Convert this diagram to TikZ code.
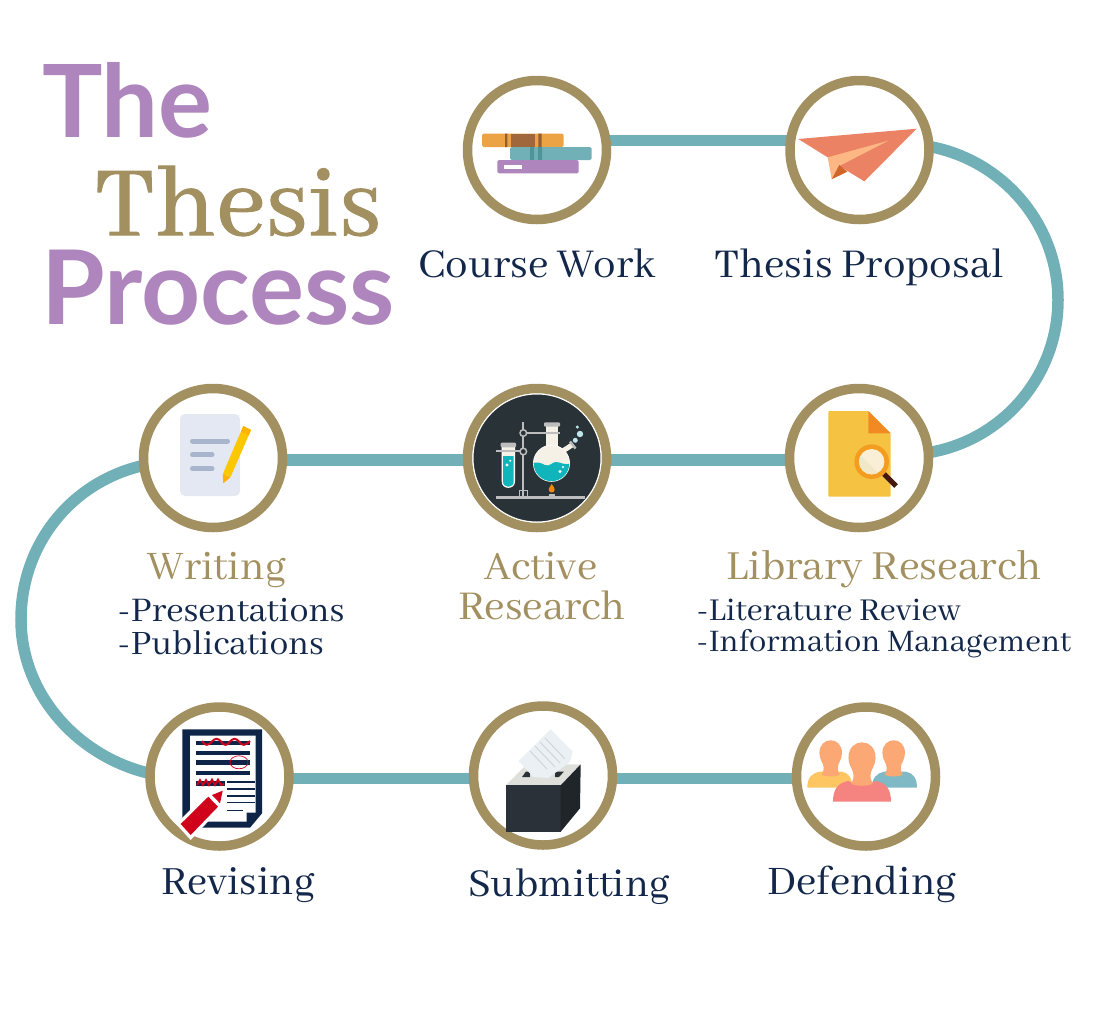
\documentclass[tikz,border=0pt]{standalone}
\usepackage{fontspec}
\usetikzlibrary{calc}
\newfontfamily\serifface{Abhaya Libre}
\newfontfamily\serifheavy[FakeBold=1]{Abhaya Libre}
\newfontfamily\titleface{Lato}
\pgfdeclarelayer{bg}
\pgfsetlayers{bg,main}
\definecolor{gold}{HTML}{A39060}
\definecolor{tealc}{HTML}{72B0B7}
\definecolor{navy}{HTML}{12274A}
\definecolor{purp}{HTML}{AE85BC}
\definecolor{labdark}{HTML}{293237}
\definecolor{labcream}{HTML}{F6F1E7}
\definecolor{labteal}{HTML}{10B5BC}
\definecolor{labgray}{HTML}{BDBDBD}
\definecolor{docnavy}{HTML}{0F2548}
\definecolor{redc}{HTML}{D0021B}
\definecolor{skin}{HTML}{FBA874}
\definecolor{cOrange}{HTML}{EBA346}
\definecolor{cBrown}{HTML}{A0673D}
\definecolor{cBrownD}{HTML}{965F32}
\definecolor{cTealD}{HTML}{4F9498}
\definecolor{cPlane}{HTML}{EC8264}
\definecolor{cPlaneL}{HTML}{FDB785}
\definecolor{cPlaneD}{HTML}{D0652A}
\definecolor{cDoc}{HTML}{F5C242}
\definecolor{cFold}{HTML}{F28A24}
\definecolor{cHandle}{HTML}{44190F}
\definecolor{cMag}{HTML}{F39C1F}
\definecolor{cGlass}{HTML}{F8EFD6}
\definecolor{cGlassB}{HTML}{F0E8C6}
\definecolor{cPage}{HTML}{E4E8F3}
\definecolor{cLine}{HTML}{A9B5CD}
\definecolor{cPen}{HTML}{FBC800}
\definecolor{cPenB}{HTML}{FFB300}
\definecolor{cBub}{HTML}{BDE7EC}
\definecolor{cFlame}{HTML}{F08A00}
\definecolor{cTop}{HTML}{DFE0DB}
\definecolor{cPaper}{HTML}{EAF0F4}
\definecolor{cPaperL}{HTML}{CDD4DA}
\definecolor{cBox}{HTML}{2A3138}
\definecolor{cBoxD}{HTML}{1F2528}
\definecolor{cYel}{HTML}{FDC662}
\definecolor{cTealB}{HTML}{7FB9C6}
\definecolor{cRedB}{HTML}{F58380}
\newcommand{\sz}[1]{\fontsize{#1}{#1}\selectfont}
\tikzset{
  ringnode/.style={circle,draw=gold,line width=9.5pt,fill=white,minimum size=139pt,inner sep=0pt,outer sep=0pt},
  conn/.style={draw=tealc,line width=11.5pt},
  navylabel/.style={anchor=base,text=navy,inner sep=0pt,font=\serifface},
  goldlabel/.style={anchor=base,text=gold,inner sep=0pt,font=\serifface},
  sublabel/.style={anchor=base west,text=navy,inner sep=0pt,font=\serifface},
  bigsans/.style={anchor=base west,text=purp,inner sep=0pt,font=\titleface\bfseries},
  bigserif/.style={anchor=base west,text=gold,inner sep=0pt,font=\serifheavy\sz{109}},
  thickline/.style={line width=4.5pt,draw=docnavy},
  thinline/.style={line width=1.5pt,draw=docnavy},
}
% head and neck of a person: centre x, top y, size factor
\newcommand{\headshape}[3]{%
  \fill[skin,shift={(#1,#2)},scale=#3]
    (-11.3,13) .. controls (-11.3,-4) and (11.3,-4) .. (11.3,13)
    .. controls (11.3,20) and (7,23) .. (7,28) .. controls (7,32) and (9,34) .. (9,35)
    .. controls (3,37) and (-3,37) .. (-9,35) .. controls (-9,34) and (-7,32) .. (-7,28)
    .. controls (-7,23) and (-11.3,20) .. (-11.3,13) -- cycle;}
\begin{document}
\begin{tikzpicture}[x=1pt,y=-1pt]
\useasboundingbox (0,0) rectangle (1093,1026);
\coordinate (arcR) at (1058,300);
\coordinate (arcL) at (21,619.5);
\node[ringnode] (n1) at (537,150) {};
\node[ringnode] (n2) at (859.5,150) {};
\node[ringnode] (n3) at (859,458) {};
\node[ringnode] (n4) at (537,458) {};
\node[ringnode] (n5) at (213,458) {};
\node[ringnode] (n6) at (219.5,776.5) {};
\node[ringnode] (n7) at (543,775.5) {};
\node[ringnode] (n8) at (866,776.5) {};
\begin{pgfonlayer}{bg}
\draw[conn] ($(n1)+(0,-9.5)$) -- ($(n2)+(0,-9.5)$);
\draw[conn] ($(n2)+(72.5,-3)$) .. controls (1005,161.8) and (1058,225.8) .. (arcR)
  .. controls (1058,374.2) and (1005,438.2) .. ($(n3)+(73,-6)$);
\draw[conn] ($(n3)+(0,2)$) -- ($(n4)+(0,2)$);
\draw[conn] ($(n4)+(0,2)$) -- ($(n5)+(0,2)$);
\draw[conn] ($(n5)+(-72,8)$) .. controls (69.5,483.4) and (21,545.9) .. (arcL)
  .. controls (21,693.1) and (76.5,755.6) .. ($(n6)+(-71.5,-3.5)$);
\draw[conn] ($(n6)+(0,2)$) -- ($(n7)+(0,3)$);
\draw[conn] ($(n7)+(0,3)$) -- ($(n8)+(0,2)$);
\end{pgfonlayer}
% --- books
\fill[rounded corners=1.5pt,cOrange] (482,133.7) rectangle (563.7,147);
\fill[cBrown] (510.7,133.7) rectangle (535,147);
\fill[cBrownD] (505,133.7) rectangle (507.3,147) (538.3,133.7) rectangle (541.7,147);
\fill[rounded corners=1.5pt,tealc] (510,147) rectangle (591.7,160);
\fill[cTealD] (530,147) rectangle (534,160) (538,147) rectangle (542,160);
\fill[rounded corners=1.5pt,purp] (497.3,160) rectangle (578.7,173.3);
\fill[white] (504.3,165) rectangle (522,169);
% --- plane
\fill[cPlane] (798.3,139) -- (916.7,128.7) -- (864.3,181.3) -- (839.3,166) -- (827.7,157.3) -- cycle;
\fill[cPlaneL] (827.7,157.3) -- (888.3,140.7) -- (839.3,166) -- (831.7,179.3) -- cycle;
\fill[cPlaneD] (831.7,179.3) -- (839.3,165) -- (847.3,171.7) -- cycle;
% --- library icon
\fill[rounded corners=1pt,cDoc] (828.3,411) -- (868.3,411) -- (890.7,433.3) -- (890.7,496.7) -- (828.3,496.7) -- cycle;
\fill[cFold] (868.3,411) -- (890.7,433.3) -- (868.3,433.3) -- cycle;
\draw[line width=5pt,cHandle] (884,474) -- (896,486);
\fill[cMag] (871.7,461.7) circle[radius=17.3pt];
\fill[cGlass] (871.7,461.7) circle[radius=12.7pt];
\begin{scope}
\clip (871.7,461.7) circle[radius=12.7pt];
\fill[cGlassB] (855,450) -- (885,480) -- (855,480) -- cycle;
\end{scope}
% --- writing icon
\fill[rounded corners=5pt,cPage] (180,414) rectangle (240,496);
\begin{scope}[line width=5pt,line cap=round,cLine]
\draw (192.5,441) -- (227.5,441);
\draw (192.5,454.7) -- (212,454.7);
\draw (192.5,468.7) -- (212,468.7);
\end{scope}
\fill[cPen] (222.7,474.3) -- (243.3,426) -- (251,430) -- (230.7,476.7) -- cycle;
\fill[cPenB] (241,431.5) -- (243.3,426) -- (251,430) -- (248.6,435.5) -- cycle;
\fill[cPenB] (222.7,474.3) -- (230.7,477) -- (223.3,483.3) -- cycle;
% --- lab icon
\fill[labdark,draw=white,line width=1pt] (n4) circle[radius=64pt];
\begin{scope}[labgray]
\draw[line width=2.5pt] (496,497.3) -- (585,497.3);
\draw[line width=2pt] (523.3,422.3) -- (523.3,497);
\draw[line width=1.5pt] (519.3,490.7) rectangle (527.3,497);
\draw[line width=2pt] (523.3,433) -- (560,433);
\end{scope}
\fill[white] (501.7,446) -- (515,446) -- (515,481.5) .. controls (515,490) and (501.7,490) .. (501.7,481.5) -- cycle;
\fill[labteal] (503,456) -- (513.7,456) -- (513.7,481.5) .. controls (513.7,488.5) and (503,488.5) .. (503,481.5) -- cycle;
\fill[labcream] (503,447) rectangle (513.7,456);
\fill[labgray,rounded corners=1pt] (500.7,442.7) rectangle (516,447.3);
\draw[labgray,line width=2pt] (496,451.3) -- (523.3,451.3);
\fill[white] (507,465) circle[radius=1.7pt] (510.3,460.7) circle[radius=1.1pt];
\foreach \q in {433,451.5}
  \draw[labgray,line width=1.5pt,fill=labdark] (523.3,\q) circle[radius=3.3pt];
% flask
\draw[labcream,line width=5pt] (561.7,451.7) -- (572,445);
\draw[labgray,line width=2.5pt] (570,441.5) -- (575.5,448.5);
\fill[labcream] (546,425) rectangle (557.7,450);
\fill[white] (551.5,463.3) circle[radius=18.5pt];
\fill[labcream] (551.5,463.3) circle[radius=17.8pt];
\begin{scope}
\clip (551.5,463.3) circle[radius=17.8pt];
\fill[labteal] (530,464) .. controls (537,461) and (541,463) .. (545,465)
  .. controls (550,467) and (552,462) .. (556,462)
  .. controls (561,462) and (564,466) .. (572,463) -- (572,485) -- (530,485) -- cycle;
\end{scope}
\fill[labgray,rounded corners=1pt] (544,422.3) rectangle (560,426.7);
\draw[labgray,line width=2pt] (546,433) -- (560,433);
\fill[white] (560,471.5) circle[radius=1.7pt] (563,467) circle[radius=1.1pt];
\fill[cBub] (577.3,427) circle[radius=1.7pt] (580,434) circle[radius=3.2pt] (575.3,440.3) circle[radius=2.5pt];
\fill[cFlame] (551.7,484) .. controls (553,486) and (554.7,488) .. (554.7,489.5) .. controls (554.7,493.5) and (548.7,493.5) .. (548.7,489.5) .. controls (548.7,488) and (550.4,486) .. (551.7,484) -- cycle;
\fill[labgray] (549,496) rectangle (554.5,494);
% --- revising icon
\fill[docnavy] (182.3,729.3) -- (262,729.3) -- (262,813.3) -- (250,827.7) -- (182.3,827.7) -- cycle;
\fill[white] (190,735.7) -- (255.7,735.7) -- (255.7,812.7) -- (246.7,812.7) -- (246.7,821.7) -- (190,821.7) -- cycle;
\draw[thickline] (195.7,743) -- (250,743);
\draw[thickline] (195.7,753) -- (250,753);
\draw[thickline] (195.7,762.3) -- (250,762.3);
\draw[thickline] (195.7,773) -- (250,773);
\draw[thickline] (195.7,783.3) -- (225,783.3);
\draw[thinline] (227,782) -- (255.3,782);
\draw[thinline] (227,789) -- (255.3,789);
\draw[thinline] (227,796) -- (255.3,796);
\draw[thinline] (227,802.7) -- (255.3,802.7);
\draw[thinline] (227,810.7) -- (242.7,810.7);
\draw[redc,line width=2pt] (202,741) .. controls (205,746) and (208,746) .. (212,741.5)
 .. controls (215,738) and (218,738) .. (221,741.5)
 .. controls (224,746) and (227,746) .. (230,741.5)
 .. controls (233,738) and (236,738) .. (239,741.5)
 .. controls (242,746) and (245,746) .. (250,741);
\draw[redc,line width=1.8pt] (197,785) -- (200,780) -- (203,785) -- (206,780) -- (209,785) -- (212,779.5) -- (215,785) -- (218,779.5) -- (221,785) -- (224,784);
\draw[redc,line width=0.7pt] (239,762.3) ellipse[x radius=9pt,y radius=6.5pt];
\fill[white] (176,824) -- (208,792) -- (222,806.7) -- (190.7,840) -- cycle;
\fill[redc] (180.7,824) -- (208.3,796.7) -- (218,806.7) -- (190.7,835) -- cycle;
\fill[redc] (212,795) -- (222.7,790.7) -- (220,803.3) -- cycle;
% --- submitting icon
\fill[cTop] (505.7,785.3) -- (526.7,764.3) -- (580.7,764.3) -- (560.7,785.3) -- cycle;
\fill[labdark] (522,777) -- (526,771.5) -- (564,771.5) -- (559,777) -- cycle;
\fill[cTop] (530,771) rectangle (555,778);
\fill[cPaper] (550.7,729.3) -- (572.7,751.7) -- (570,762) -- (548.3,778) -- (533.3,777) -- (518.7,761) -- cycle;
\begin{scope}[line width=0.9pt,cPaperL]
\draw (545,738) -- (565,759);
\draw (540,742) -- (560,763);
\draw (535,746) -- (555,767);
\draw (530,751) -- (547,769);
\end{scope}
\fill[cBox] (505.7,785.3) rectangle (560.7,831.7);
\fill[cBoxD] (560.7,785.3) -- (580.7,764.3) -- (580,808.3) -- (560.7,831.7) -- cycle;
% --- defending icon
\fill[cYel] (807.3,787.7) .. controls (807.5,777) and (812,773) .. (820,771.7) -- (842,771.7) .. controls (849,773) and (852,778) .. (852,787.7) -- cycle;
\fill[cTealB] (871.7,787.7) .. controls (872,778) and (877,773) .. (884,771.7) -- (906,771.7) .. controls (913,773) and (917,778) .. (917,787.7) -- cycle;
\headshape{830.7}{740}{1}
\headshape{893.7}{740}{1}
\fill[cRedB] (833,801.7) .. controls (833,789) and (838,783) .. (848,781) .. controls (858,785) and (866,785) .. (876,781) .. controls (886,783) and (891,789) .. (891,801.7) -- cycle;
\headshape{862}{742}{1.2}
% --- labels
\node[bigsans] (t1) at (42,137) {\sz{101}The};
\node[bigserif] (t2) at (94,235) {Thesis};
\node[bigsans] (t3) at (41,324) {\sz{103}Process};
\node[navylabel] (l1) at (537,277) {\sz{45}Course Work};
\node[navylabel] (l2) at (859,277) {\sz{45}Thesis Proposal};
\node[goldlabel] (l5) at (217,579) {\sz{44.5}Writing};
\node[sublabel] (l5a) at (118,621) {\sz{38}-Presentations};
\node[sublabel] (l5b) at (118,654) {\sz{37.5}-Publications};
\node[goldlabel] (l4a) at (541,579) {\sz{44.5}Active};
\node[goldlabel] (l4b) at (542,619) {\sz{45}Research};
\node[goldlabel] (l3) at (884,579) {\sz{45.5}Library Research};
\node[sublabel] (l3a) at (697,620) {\sz{35}-Literature Review};
\node[sublabel] (l3b) at (697,651) {\sz{34.5}-Information Management};
\node[navylabel] (l6) at (238,894) {\sz{44}Revising};
\node[navylabel] (l7) at (569,896) {\sz{43.5}Submitting};
\node[navylabel] (l8) at (862,894) {\sz{44.5}Defending};
\end{tikzpicture}
\end{document}
